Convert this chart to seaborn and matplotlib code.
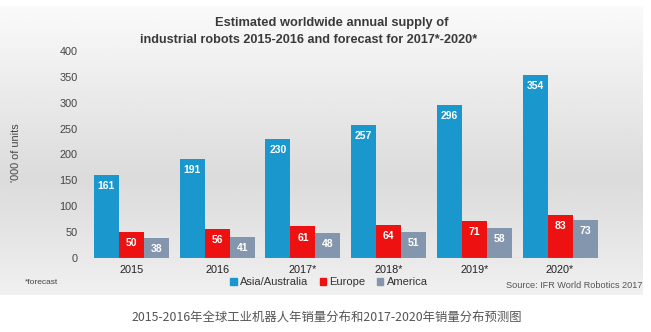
import numpy as np
import pandas as pd
import matplotlib
matplotlib.use("Agg")
import matplotlib.pyplot as plt
import seaborn as sns

years = ["2015", "2016", "2017*", "2018*", "2019*", "2020*"]
asia = [161, 191, 230, 257, 296, 354]
europe = [50, 56, 61, 64, 71, 83]
america = [38, 41, 48, 51, 58, 73]
regions = ["Asia/Australia", "Europe", "America"]
colors = ["#1a98cd", "#ee1111", "#8496ad"]
yticks = [0, 50, 100, 150, 200, 250, 300, 350, 400]

df = pd.DataFrame({
    "year": years * 3,
    "region": [regions[0]] * 6 + [regions[1]] * 6 + [regions[2]] * 6,
    "value": asia + europe + america,
})

sns.set_theme(style="white")
plt.rcParams['font.family'] = ['Liberation Sans', 'DejaVu Sans']

W, H = 651, 332
fig = plt.figure(figsize=(W / 100, H / 100), dpi=100)
fig.patch.set_facecolor("white")

# background panel with vertical gradient
bg = fig.add_axes([0, 1 - 295 / H, 643 / W, (295 - 6) / H])
grad = np.concatenate([np.linspace(0.98, 0.86, 60), np.linspace(0.86, 0.94, 40)])
img = np.tile(grad[:, None], (1, 10))
bg.imshow(img, cmap="gray", vmin=0, vmax=1, aspect="auto", extent=[0, 1, 0, 1], origin="upper")
bg.set_axis_off()

ax = fig.add_axes([88.6 / W, 1 - 258 / H, (602.9 - 88.6) / W, (258 - 51) / H])
ax.set_facecolor("none")
sns.barplot(data=df, x="year", y="value", hue="region", palette=colors,
            width=0.875, ax=ax, saturation=1, legend=False, linewidth=0)
ax.set_xlim(-0.5, 5.5)
ax.set_ylim(0, 400)
ax.set_yticks(yticks)
ax.tick_params(axis="y", labelsize=7.8, colors="#444444", length=0, pad=8)
ax.tick_params(axis="x", labelsize=7.8, colors="#222222", length=0, pad=5)
for s in ax.spines.values():
    s.set_visible(False)
ax.axhline(0, color="#bbbbbb", lw=0.8)
ax.set_xlabel("")
ax.set_ylabel("'000 of units", fontsize=7.8, color="#444444")
ax.yaxis.set_label_coords((21 - 88.6) / (602.9 - 88.6), 0.51)

for cont in ax.containers:
    for bar in cont:
        h = bar.get_height()
        ax.annotate(f"{int(round(h))}", (bar.get_x() + bar.get_width() / 2, h),
                    xytext=(0, -8), textcoords="offset points", ha="center", va="center",
                    color="white", fontsize=7.5, fontweight="bold")

fig.text(332 / W, 1 - 23 / H, "Estimated worldwide annual supply of", ha="center", va="center",
         fontsize=9.3, fontweight="bold", color="#3a3a3a")
fig.text(309 / W, 1 - 40 / H, "industrial robots 2015-2016 and forecast for 2017*-2020*", ha="center",
         va="center", fontsize=9.1, fontweight="bold", color="#3a3a3a")

handles = [plt.Rectangle((0, 0), 1, 1, color=c) for c in colors]
fig.legend(handles, regions, loc="center", bbox_to_anchor=(329 / W, 1 - 282 / H), ncol=3,
           frameon=False, fontsize=8, handlelength=0.6, handleheight=0.6, handletextpad=0.3,
           columnspacing=1.0, labelcolor="#333333")

fig.text(25 / W, 1 - 283 / H, "*forecast", fontsize=6, color="#444444", va="center")
fig.text(642 / W, 1 - 285 / H, "Source: IFR World Robotics 2017", fontsize=6.6, color="#555555",
         va="center", ha="right")

fig.text(327 / W, 1 - 318 / H, "2015-2016年全球工业机器人年销量分布和2017-2020年销量分布预测图",
         ha="center", va="center", fontsize=8.9, color="#555555",
         family=["Noto Sans CJK SC", "DejaVu Sans"])

fig.savefig("out.png", dpi=100)
